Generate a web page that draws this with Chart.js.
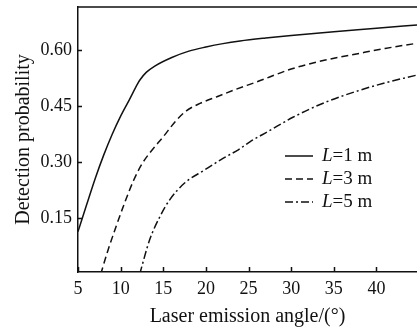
<!DOCTYPE html>
<html>
<head>
<meta charset="utf-8">
<script src="https://cdn.jsdelivr.net/npm/chart.js@4"></script>
<style>
  html, body { margin: 0; padding: 0; background: #fff; }
  #wrap { width: 417px; height: 331px; }
</style>
</head>
<body>
<div id="wrap"><canvas id="detChart"></canvas></div>
<script>
// values
const angleL1 = [5, 6, 7, 8, 9, 10, 11, 12, 12.3, 13, 14, 16, 18, 20, 22, 24, 27, 30, 35, 40, 44.75];
const probL1 = [0.114, 0.185, 0.255, 0.318, 0.374, 0.423, 0.466, 0.510, 0.521, 0.540, 0.557, 0.580, 0.597, 0.608, 0.617, 0.624, 0.632, 0.639, 0.649, 0.658, 0.667];

const angleL3 = [7.66, 8.5, 9.5, 10.5, 11.5, 12.5, 13.5, 15, 16.5, 17.7, 19.3, 21.3, 23.2, 26, 30, 34, 38, 41, 44.75];
const probL3 = [0, 0.063, 0.130, 0.193, 0.250, 0.295, 0.327, 0.368, 0.411, 0.437, 0.457, 0.475, 0.492, 0.515, 0.549, 0.573, 0.591, 0.604, 0.618];

const angleL5 = [12.23, 13.4, 14.6, 15.75, 17.5, 19.85, 22, 23.8, 25.2, 27.3, 30.2, 34, 38, 41, 44.75];
const probL5 = [0, 0.092, 0.154, 0.199, 0.244, 0.279, 0.310, 0.333, 0.355, 0.382, 0.420, 0.460, 0.492, 0.512, 0.533];

const seriesNames = ['1', '3', '5'];
const xTicks = [5, 10, 15, 20, 25, 30, 35, 40];
const yTicks = [0.15, 0.30, 0.45, 0.60];

const FONT = "'Liberation Serif', 'Times New Roman', serif";

const toPoints = (xs, ys) => xs.map((x, i) => ({ x: x, y: ys[i] }));

// frame top line, inward tick marks, legend inside the plot
const framePlugin = {
    id: 'frame',
    afterDraw(chart) {
        const ctx = chart.ctx;
        const area = chart.chartArea;
        const xs = chart.scales.x;
        const ys = chart.scales.y;
        ctx.save();
        ctx.strokeStyle = '#111';
        ctx.lineWidth = 1.5;
        ctx.beginPath();
        ctx.moveTo(area.left, area.top);
        ctx.lineTo(area.right, area.top);
        xTicks.forEach(v => {
            const px = Math.round(xs.getPixelForValue(v)) + 0.5;
            ctx.moveTo(px, area.bottom);
            ctx.lineTo(px, area.bottom - 5);
        });
        yTicks.forEach(v => {
            const py = Math.round(ys.getPixelForValue(v)) + 0.5;
            ctx.moveTo(area.left, py);
            ctx.lineTo(area.left + 4, py);
        });
        ctx.stroke();

        // legend
        const lx = area.left + 207;
        const ly = area.top + 149;
        chart.data.datasets.forEach((ds, i) => {
            const y = ly + i * 23;
            ctx.beginPath();
            ctx.lineWidth = ds.borderWidth;
            ctx.setLineDash(ds.borderDash || []);
            ctx.moveTo(lx, y);
            ctx.lineTo(lx + 28, y);
            ctx.stroke();
            ctx.setLineDash([]);
            ctx.fillStyle = '#111';
            ctx.textBaseline = 'middle';
            ctx.font = "italic 19px " + FONT;
            ctx.fillText('L', lx + 37, y);
            const w = ctx.measureText('L').width;
            ctx.font = "19px " + FONT;
            ctx.fillText('=' + seriesNames[i] + ' m', lx + 37 + w, y);
        });
        ctx.restore();
    }
};

new Chart(document.getElementById('detChart'), {
    type: 'line',
    data: {
        datasets: [
            {
                label: 'L=1 m',
                data: toPoints(angleL1, probL1),
                borderColor: '#111',
                borderWidth: 1.5,
                pointRadius: 0,
                cubicInterpolationMode: 'monotone'
            },
            {
                label: 'L=3 m',
                data: toPoints(angleL3, probL3),
                borderColor: '#111',
                borderWidth: 1.5,
                borderDash: [7, 4],
                pointRadius: 0,
                cubicInterpolationMode: 'monotone'
            },
            {
                label: 'L=5 m',
                data: toPoints(angleL5, probL5),
                borderColor: '#111',
                borderWidth: 1.5,
                borderDash: [8, 3, 2, 3],
                pointRadius: 0,
                cubicInterpolationMode: 'monotone'
            }
        ]
    },
    options: {
        responsive: true,
        maintainAspectRatio: false,
        animation: false,
        layout: { padding: { top: 7, right: 0, left: 0, bottom: 0 } },
        plugins: {
            legend: { display: false },
            tooltip: { enabled: false }
        },
        scales: {
            x: {
                type: 'linear',
                min: 5,
                max: 44.75,
                afterBuildTicks: scale => { scale.ticks = xTicks.map(v => ({ value: v })); },
                afterFit: scale => {
                    scale.height = 59;
                    scale.paddingLeft = 0;
                    scale.paddingRight = 0;
                },
                grid: { display: false, drawTicks: false },
                border: { display: true, color: '#111', width: 1.5 },
                ticks: {
                    color: '#111',
                    padding: 6,
                    maxRotation: 0,
                    font: { family: FONT, size: 18 }
                },
                title: {
                    display: true,
                    text: 'Laser emission angle/(°)',
                    color: '#111',
                    padding: { top: 2, bottom: 2 },
                    font: { family: FONT, size: 20 }
                }
            },
            y: {
                min: 0.006,
                max: 0.715,
                afterBuildTicks: scale => { scale.ticks = yTicks.map(v => ({ value: v })); },
                afterFit: scale => {
                    scale.width = 78;
                    scale.paddingTop = 0;
                    scale.paddingBottom = 0;
                },
                grid: { display: false, drawTicks: false },
                border: { display: true, color: '#111', width: 1.5 },
                ticks: {
                    color: '#111',
                    padding: 6,
                    font: { family: FONT, size: 18 },
                    callback: v => v.toFixed(2)
                },
                title: {
                    display: true,
                    text: 'Detection probability',
                    color: '#111',
                    padding: { top: 12, bottom: 0 },
                    font: { family: FONT, size: 20 }
                }
            }
        }
    },
    plugins: [framePlugin]
});
</script>
</body>
</html>
